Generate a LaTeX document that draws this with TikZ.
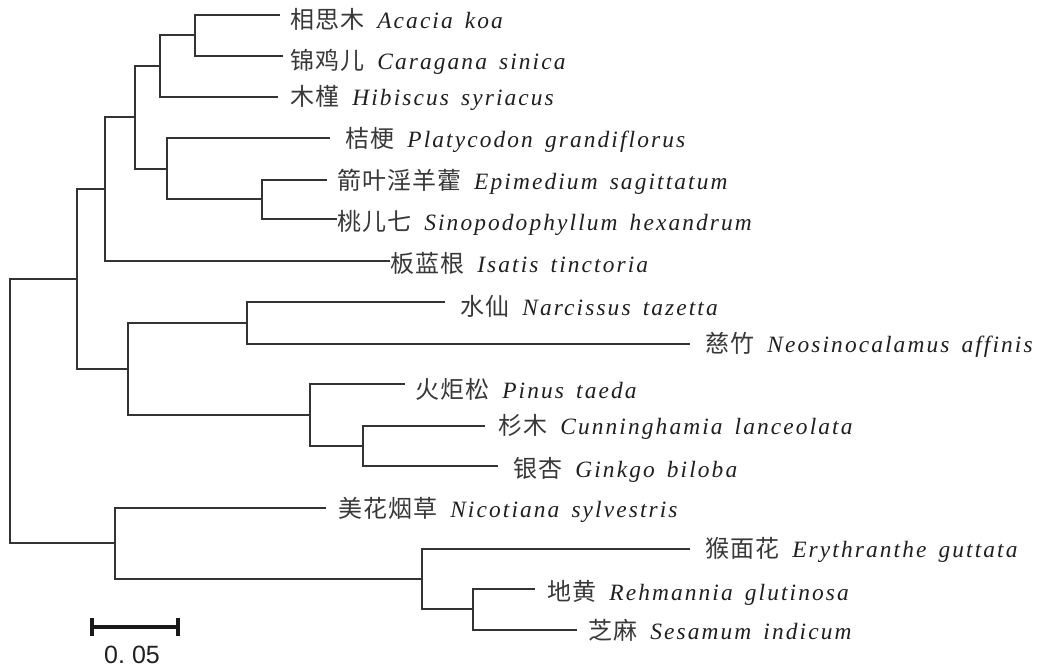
\documentclass[tikz,border=0pt]{standalone}
\usepackage{fontspec}
\setmainfont{Liberation Serif}[LetterSpace=9]
\newfontfamily\cjk{Noto Sans CJK SC}[LetterSpace=4]
\newfontfamily\barfont{Liberation Sans}
\usetikzlibrary{calc}
\newcommand\taxon[3]{{\cjk\fontsize{12}{14}\selectfont\color{black!78}#1}\hspace{6.5pt}\textit{#2}\hspace{5pt}\textit{#3}}
\tikzset{
  br/.style={draw=black!80, line width=1pt, line join=miter},
  lab/.style={anchor=base west, inner sep=0pt, text=black!88, font=\fontsize{11.7}{14}\selectfont},
  sbar/.style={draw=black!90, line width=1.6pt}
}
\begin{document}
\begin{tikzpicture}[x=0.5pt,y=-0.5pt]
\useasboundingbox (0,0) rectangle (1045,667);
% leaf ends
\coordinate (acacia) at (280,15);
\coordinate (caragana) at (283,56);
\coordinate (hibiscus) at (278,97);
\coordinate (platy) at (330,138);
\coordinate (epi) at (327,180);
\coordinate (sino) at (337,219);
\coordinate (isatis) at (390,261);
\coordinate (narc) at (445,302);
\coordinate (neos) at (690,344);
\coordinate (pinus) at (405,384);
\coordinate (cunn) at (485,426);
\coordinate (ginkgo) at (498,466);
\coordinate (nico) at (326,508);
\coordinate (eryth) at (690,549);
\coordinate (rehm) at (535,589);
\coordinate (sesam) at (577,630);
% internal nodes
\coordinate (nA) at (195,35.5);
\coordinate (nB) at (160,66);
\coordinate (nD) at (262,199.5);
\coordinate (nC) at (167,169);
\coordinate (nE) at (135,117.5);
\coordinate (nF) at (105,189);
\coordinate (nH) at (247,323);
\coordinate (nJ) at (363,446);
\coordinate (nI) at (310,415);
\coordinate (nG) at (128,369);
\coordinate (nR) at (77,279);
\coordinate (nM) at (473,609.5);
\coordinate (nL) at (422,579);
\coordinate (nK) at (115,543.5);
\coordinate (root) at (10,411);
% branches
\draw[br] (acacia) -| (nA) |- (caragana);
\draw[br] (nA) -| (nB) |- (hibiscus);
\draw[br] (epi) -| (nD) |- (sino);
\draw[br] (platy) -| (nC) |- (nD);
\draw[br] (nB) -| (nE) |- (nC);
\draw[br] (nE) -| (nF) |- (isatis);
\draw[br] (narc) -| (nH) |- (neos);
\draw[br] (cunn) -| (nJ) |- (ginkgo);
\draw[br] (pinus) -| (nI) |- (nJ);
\draw[br] (nH) -| (nG) |- (nI);
\draw[br] (nF) -| (nR) |- (nG);
\draw[br] (rehm) -| (nM) |- (sesam);
\draw[br] (eryth) -| (nL) |- (nM);
\draw[br] (nico) -| (nK) |- (nL);
\draw[br] (nR) -| (root) |- (nK);
% labels
\node[lab] (l-acacia) at ($(acacia)+(10,13.5)$) {\taxon{相思木}{Acacia}{koa}};
\node[lab] (l-caragana) at ($(caragana)+(7,13.5)$) {\taxon{锦鸡儿}{Caragana}{sinica}};
\node[lab] (l-hibiscus) at ($(hibiscus)+(12,8.5)$) {\taxon{木槿}{Hibiscus}{syriacus}};
\node[lab] (l-platy) at ($(platy)+(15,9.5)$) {\taxon{桔梗}{Platycodon}{grandiflorus}};
\node[lab] (l-epi) at ($(epi)+(10,9.5)$) {\taxon{箭叶淫羊藿}{Epimedium}{sagittatum}};
\node[lab] (l-sino) at ($(sino)+(0,11.5)$) {\taxon{桃儿七}{Sinopodophyllum}{hexandrum}};
\node[lab] (l-isatis) at ($(isatis)+(0,11.5)$) {\taxon{板蓝根}{Isatis}{tinctoria}};
\node[lab] (l-narc) at ($(narc)+(15,13.5)$) {\taxon{水仙}{Narcissus}{tazetta}};
\node[lab] (l-neos) at ($(neos)+(15,8.5)$) {\taxon{慈竹}{Neosinocalamus}{affinis}};
\node[lab] (l-pinus) at ($(pinus)+(10,14.5)$) {\taxon{火炬松}{Pinus}{taeda}};
\node[lab] (l-cunn) at ($(cunn)+(13,8.5)$) {\taxon{杉木}{Cunninghamia}{lanceolata}};
\node[lab] (l-ginkgo) at ($(ginkgo)+(15,11.5)$) {\taxon{银杏}{Ginkgo}{biloba}};
\node[lab] (l-nico) at ($(nico)+(12,9.5)$) {\taxon{美花烟草}{Nicotiana}{sylvestris}};
\node[lab] (l-eryth) at ($(eryth)+(15,8.5)$) {\taxon{猴面花}{Erythranthe}{guttata}};
\node[lab] (l-rehm) at ($(rehm)+(12,11.5)$) {\taxon{地黄}{Rehmannia}{glutinosa}};
\node[lab] (l-sesam) at ($(sesam)+(11,9.5)$) {\taxon{芝麻}{Sesamum}{indicum}};
% scale bar
\coordinate (sb1) at (92,627);
\coordinate (sb2) at (178,627);
\draw[sbar] (sb1) -- (sb2);
\draw[sbar] ($(sb1)+(0,-9)$) -- ($(sb1)+(0,9)$);
\draw[sbar] ($(sb2)+(0,-9)$) -- ($(sb2)+(0,9)$);
\node[inner sep=0pt, text=black!88, font=\barfont\fontsize{12.5}{14}\selectfont] (sblabel) at (132,655) {0.\hspace{3.5pt}05};
\end{tikzpicture}
\end{document}
